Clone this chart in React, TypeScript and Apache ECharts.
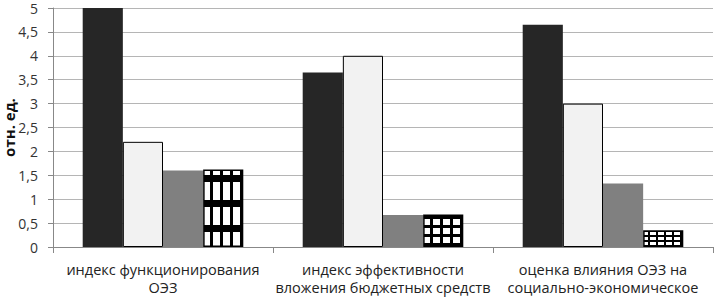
import React, { useEffect, useRef } from "react";
import * as echarts from "echarts";

const categories = [
  "индекс функционирования\nОЭЗ",
  "индекс эффективности\nвложения бюджетных средств",
  "оценка влияния ОЭЗ на\nсоциально-экономическое",
];
const seriesA = [5, 3.65, 4.65];
const seriesB = [2.2, 4.0, 3.0];
const seriesC = [1.6, 0.67, 1.33];
const seriesD = [1.62, 0.68, 0.35];
const yTicks = [0, 0.5, 1, 1.5, 2, 2.5, 3, 3.5, 4, 4.5, 5];
const yAxisName = "отн. ед.";

function makePattern(cellW: number, cellH: number, vLine: number, hLine: number) {
  const c = document.createElement("canvas");
  c.width = cellW;
  c.height = cellH;
  const ctx = c.getContext("2d")!;
  ctx.fillStyle = "#ffffff";
  ctx.fillRect(0, 0, cellW, cellH);
  ctx.fillStyle = "#000000";
  ctx.fillRect(0, 0, vLine, cellH);
  ctx.fillRect(0, 0, cellW, hLine);
  return { image: c, repeat: "repeat" as const };
}

export default function App() {
  const ref = useRef<HTMLDivElement>(null);
  useEffect(() => {
    if (!ref.current) return;
    const chart = echarts.init(ref.current, undefined, { renderer: "svg" });
    const patterns = [
      makePattern(10, 25, 3, 7),
      makePattern(10, 9, 3, 3),
      makePattern(8, 5, 2, 2),
    ];
    chart.setOption({
      animation: false,
      grid: { left: 53, right: 2, top: 8, bottom: 50, outerBoundsMode: "none", containLabel: false },
      xAxis: {
        type: "category",
        data: categories,
        axisLine: { lineStyle: { color: "#888" } },
        axisTick: { show: true, length: 6, lineStyle: { color: "#888" } },
        axisLabel: {
          color: "#222",
          fontFamily: "Open Sans",
          fontSize: 14.5,
          lineHeight: 18,
          margin: 13,
          interval: 0,
        },
      },
      yAxis: {
        type: "value",
        min: 0,
        max: 5,
        interval: 0.5,
        name: yAxisName,
        nameLocation: "middle",
        nameGap: 37,
        nameMoveOverlap: false,
        nameTextStyle: {
          color: "#111",
          fontWeight: "bold",
          fontSize: 15,
          lineHeight: 15,
          fontFamily: "Open Sans",
        },
        axisLine: { show: true, lineStyle: { color: "#888" } },
        axisTick: { show: true, length: 5, lineStyle: { color: "#888" } },
        splitLine: { lineStyle: { color: "#b5b5b5" } },
        axisLabel: {
          color: "#333",
          fontFamily: "Open Sans",
          fontSize: 14,
          margin: 15,
          formatter: (v: number) =>
            yTicks.includes(v) ? String(v).replace(".", ",") : "",
        },
      },
      series: [
        {
          type: "bar",
          data: seriesA,
          barCategoryGap: "27%",
          barGap: "0%",
          itemStyle: { color: "#262626" },
        },
        {
          type: "bar",
          data: seriesB,
          itemStyle: { color: "#f2f2f2", borderColor: "#000", borderWidth: 1 },
        },
        {
          type: "bar",
          data: seriesC,
          itemStyle: { color: "#808080" },
        },
        {
          type: "bar",
          data: seriesD.map((v, i) => ({
            value: v,
            itemStyle: { color: patterns[i], borderColor: "#000", borderWidth: 1.5 },
          })),
        },
      ],
    });
    return () => chart.dispose();
  }, []);
  return <div ref={ref} style={{ width: 715, height: 297, position: "absolute", left: 0, top: 0 }} />;
}
